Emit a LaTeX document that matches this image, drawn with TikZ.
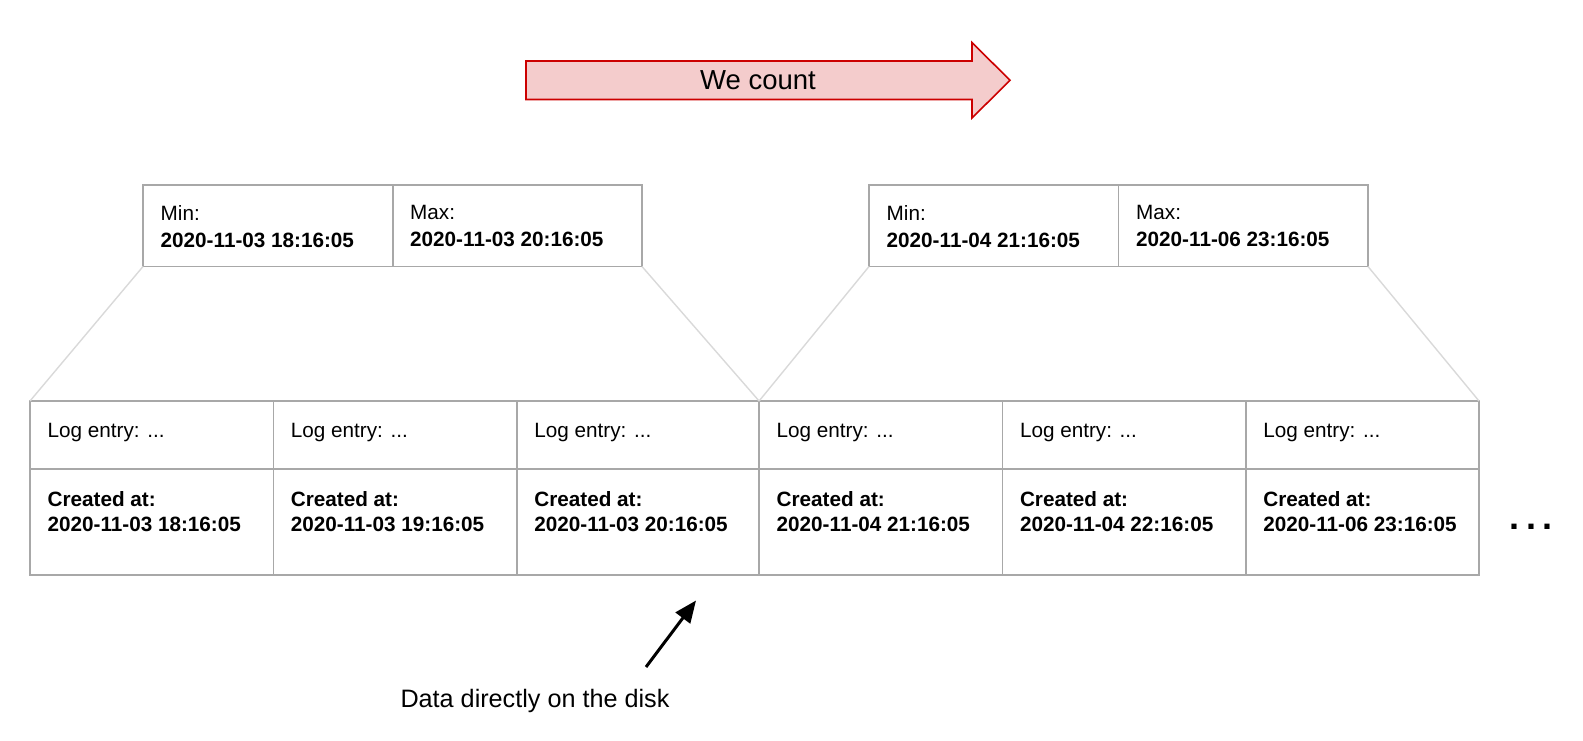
\documentclass[tikz,border=0pt]{standalone}
\usepackage{fontspec}
\setmainfont{Liberation Sans}
\usetikzlibrary{arrows.meta}
\definecolor{arrowfill}{HTML}{F4CCCC}
\definecolor{arrowdraw}{HTML}{CC0000}
\definecolor{boxline}{HTML}{A8A8A8}
\definecolor{fanline}{HTML}{D9D9D9}
\begin{document}
\begin{tikzpicture}[x=1pt,y=-1pt,
  cellbox/.style={draw=boxline, line width=1.6pt, anchor=north west, inner sep=0pt, outer sep=0pt},
  fan/.style={draw=fanline, line width=1.4pt},
  celltxt/.style={anchor=north west, inner sep=0pt, align=left, font=\fontsize{20.7}{25.5}\selectfont},
  toptxt/.style={celltxt, font=\fontsize{20.7}{27.5}\selectfont},
  pointer/.style={-{Triangle[length=22pt,width=18pt]}, line width=3pt, black},
]
\useasboundingbox (0,0) rectangle (1583,741);

% big arrow "We count"
\draw[fill=arrowfill, draw=arrowdraw, line width=1.6pt, line join=miter]
  (526,61) -- (972,61) -- (972,42.5) -- (1010,80.3) -- (972,118) -- (972,99.5) -- (526,99.5) -- cycle;
\node[anchor=base, inner sep=0pt, font=\fontsize{27.5}{30}\selectfont] (wecount) at (758,90) {We count};

% top summary boxes
\node[cellbox, minimum width=249.7pt, minimum height=81.5pt] (mn1) at (143,185) {};
\node[cellbox, minimum width=249.3pt, minimum height=81.5pt] (mx1) at (392.7,185) {};
\node[cellbox, minimum width=249.5pt, minimum height=81.5pt] (mn2) at (869,185) {};
\node[cellbox, minimum width=249.5pt, minimum height=81.5pt] (mx2) at (1118.5,185) {};

\node[toptxt] (mn1t) at (160.5,205) {Min:\\\textbf{2020-11-03 18:16:05}};
\node[toptxt] (mx1t) at (410,205) {Max:\\\textbf{2020-11-03 20:16:05}};
\node[toptxt] (mn2t) at (886.5,205) {Min:\\\textbf{2020-11-04 21:16:05}};
\node[toptxt] (mx2t) at (1136,205) {Max:\\\textbf{2020-11-06 23:16:05}};

% log table
\foreach \i/\xa/\xb/\d in {1/30/273.3/2020-11-03 18:16:05,
                           2/273.3/516.8/2020-11-03 19:16:05,
                           3/516.8/759.1/2020-11-03 20:16:05,
                           4/759.1/1002.4/2020-11-04 21:16:05,
                           5/1002.4/1245.8/2020-11-04 22:16:05,
                           6/1245.8/1479/2020-11-06 23:16:05} {
  \node[cellbox, minimum width={(\xb-\xa)*1pt}, minimum height=68pt] (t\i) at (\xa,401) {};
  \node[cellbox, minimum width={(\xb-\xa)*1pt}, minimum height=106pt] (b\i) at (\xa,469) {};
  \node[celltxt] (lt\i) at (\xa+17.4,423) {Log entry: ...};
  \node[celltxt] (ct\i) at (\xa+17.4,491) {\textbf{Created at:}\\\textbf{\d}};
}

% fan lines
\draw[fan] (mn1.south west) -- (t1.north west);
\draw[fan] (mx1.south east) -- (t3.north east);
\draw[fan] (mn2.south west) -- (t4.north west);
\draw[fan] (mx2.south east) -- (t6.north east);

% ellipsis
\node[inner sep=0pt, font=\bfseries\fontsize{36}{36}\selectfont] (dots) at (1531,527) {.\kern7pt.\kern7pt.};

% pointer and label
\coordinate (ptail) at (646,667);
\coordinate (ptip) at (696,600.5);
\draw[pointer] (ptail) -- (ptip);
\node[anchor=base, inner sep=0pt, font=\fontsize{25.2}{28}\selectfont] (disk) at (535,707) {Data directly on the disk};
\end{tikzpicture}
\end{document}
